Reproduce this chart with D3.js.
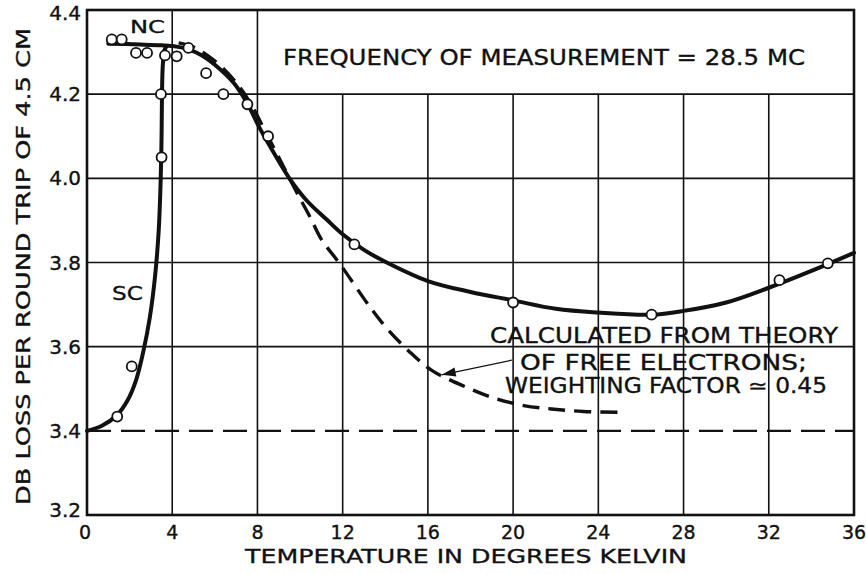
<!DOCTYPE html>
<html>
<head>
<meta charset="utf-8">
<script src="https://cdn.jsdelivr.net/npm/d3@7/dist/d3.min.js"></script>
<style>
  html, body { margin: 0; padding: 0; background: #fff; }
  svg { display: block; }
  text { font-family: "DejaVu Sans", sans-serif; fill: #111; stroke: #111; stroke-width: 0.35; }
</style>
</head>
<body>
<svg id="chart" width="866" height="574"></svg>
<script>
// Axis ticks
const xTicks = [0, 4, 8, 12, 16, 20, 24, 28, 32, 36];
const yTicks = [3.2, 3.4, 3.6, 3.8, 4.0, 4.2, 4.4];
const yTickLabels = ["3.2", "3.4", "3.6", "3.8", "4.0", "4.2", "4.4"];

// Normal-conducting branch: measured points and drawn curve (temperature K, dB)
const ncPointsT = [1.16, 1.63, 2.3, 2.82, 3.66, 4.21, 4.76, 5.59, 6.4, 7.53, 8.5, 12.55, 20.0, 26.5, 32.5, 34.77];
const ncPointsDb = [4.33, 4.33, 4.298, 4.298, 4.292, 4.29, 4.31, 4.25, 4.2, 4.176, 4.1, 3.843, 3.705, 3.676, 3.758, 3.798];
const ncCurveT = [1.0, 2.5, 3.5, 4.2, 4.8, 5.4, 6.0, 6.9, 7.5, 8.1, 8.8, 9.5, 10.3, 11.25, 12.0, 13.0, 14.07, 16.0, 18.0, 20.0, 22.0, 24.0, 26.5, 28.0, 30.0, 32.0, 34.0, 36.0];
const ncCurveDb = [4.32, 4.318, 4.316, 4.313, 4.306, 4.292, 4.27, 4.226, 4.18, 4.12, 4.058, 4.0, 3.948, 3.902, 3.867, 3.83, 3.8, 3.756, 3.73, 3.71, 3.69, 3.681, 3.676, 3.685, 3.705, 3.74, 3.78, 3.823];

// Superconducting branch
const scPointsT = [1.42, 2.1, 3.5, 3.47];
const scPointsDb = [3.434, 3.553, 4.05, 4.2];
const scCurveT = [0, 0.7, 1.4, 1.9, 2.3, 2.65, 2.95, 3.2, 3.37, 3.46, 3.5, 3.52, 3.56, 3.64, 3.75];
const scCurveDb = [3.4, 3.412, 3.437, 3.472, 3.52, 3.59, 3.67, 3.77, 3.88, 4.0, 4.1, 4.2, 4.27, 4.305, 4.315];

// Free-electron theory, weighting factor 0.45
const theoryT = [4.3, 5.0, 5.6, 6.34, 7.18, 7.77, 8.4, 9.0, 9.5, 10.0, 10.5, 11.0, 11.85, 13.3, 14.1, 15.2, 16.2, 17.7, 19.1, 20.5, 21.8, 23.3, 25.0];
const theoryDb = [4.322, 4.312, 4.294, 4.264, 4.216, 4.17, 4.108, 4.05, 4.0, 3.952, 3.905, 3.855, 3.798, 3.693, 3.642, 3.585, 3.543, 3.506, 3.478, 3.46, 3.452, 3.446, 3.444];

// Normal-state residual loss level
const baselineDb = 3.4;

const margin = { left: 87, right: 12, top: 10, bottom: 59 };
const W = 866, H = 574;
const svg = d3.select("#chart");

const x = d3.scaleLinear().domain([0, 36]).range([margin.left, W - margin.right]);
const y = d3.scaleLinear().domain([3.2, 4.4]).range([H - margin.bottom, margin.top]);

const ink = "#111";

// Grid: vertical lines stop under the caption box (T > 8, loss > 4.2)
const g = svg.append("g");
g.selectAll("line.v").data(xTicks.slice(1, -1)).join("line")
  .attr("x1", d => x(d)).attr("x2", d => x(d))
  .attr("y1", y(3.2)).attr("y2", d => d > 8 ? y(4.2) : y(4.4))
  .attr("stroke", ink).attr("stroke-width", 1.6);
g.selectAll("line.h").data([3.6, 3.8, 4.0, 4.2]).join("line")
  .attr("x1", x(0)).attr("x2", x(36))
  .attr("y1", d => y(d)).attr("y2", d => y(d))
  .attr("stroke", ink).attr("stroke-width", 1.6);

// Frame
svg.append("rect")
  .attr("x", x(0)).attr("y", y(4.4))
  .attr("width", x(36) - x(0)).attr("height", y(3.2) - y(4.4))
  .attr("fill", "none").attr("stroke", ink).attr("stroke-width", 2.6);

// Baseline dashed at 3.4
svg.append("line")
  .attr("x1", x(0)).attr("x2", x(36))
  .attr("y1", y(baselineDb)).attr("y2", y(baselineDb))
  .attr("stroke", ink).attr("stroke-width", 2.4)
  .attr("stroke-dasharray", "24,10");

const line = d3.line().x(d => x(d[0])).y(d => y(d[1])).curve(d3.curveCatmullRom.alpha(0.5));
const zip = (a, b) => a.map((v, i) => [v, b[i]]);

// Theory curve (dashed)
svg.append("path")
  .attr("d", line(zip(theoryT, theoryDb)))
  .attr("fill", "none").attr("stroke", ink).attr("stroke-width", 3.4)
  .attr("stroke-dasharray", "17,9");

// NC and SC curves
svg.append("path")
  .attr("d", line(zip(ncCurveT, ncCurveDb)))
  .attr("fill", "none").attr("stroke", ink).attr("stroke-width", 4)
  .attr("stroke-linecap", "round");
svg.append("path")
  .attr("d", line(zip(scCurveT, scCurveDb)))
  .attr("fill", "none").attr("stroke", ink).attr("stroke-width", 4)
  .attr("stroke-linecap", "round");

// Measured points
const pts = zip(ncPointsT, ncPointsDb).concat(zip(scPointsT, scPointsDb));
svg.selectAll("circle.pt").data(pts).join("circle")
  .attr("cx", d => x(d[0])).attr("cy", d => y(d[1])).attr("r", 5)
  .attr("fill", "#fff").attr("stroke", ink).attr("stroke-width", 1.8);

// Tick labels
svg.selectAll("text.yt").data(yTicks).join("text")
  .attr("x", 81).attr("y", (d, i) => y(d) + (i === 0 ? 2 : (i === yTicks.length - 1 ? 10 : 7)))
  .attr("text-anchor", "end").attr("font-size", 20)
  .text((d, i) => yTickLabels[i]);
svg.selectAll("text.xt").data(xTicks).join("text")
  .attr("x", d => x(d) - (d === 0 ? 2 : 0)).attr("y", 539)
  .attr("text-anchor", "middle").attr("font-size", 19)
  .text(d => d);

// Axis titles
svg.append("text")
  .attr("x", 245).attr("y", 563).attr("font-size", 20)
  .attr("textLength", 442).attr("lengthAdjust", "spacingAndGlyphs")
  .text("TEMPERATURE IN DEGREES KELVIN");
svg.append("text")
  .attr("transform", "translate(30,505) rotate(-90)")
  .attr("font-size", 20)
  .attr("textLength", 477).attr("lengthAdjust", "spacingAndGlyphs")
  .text("DB LOSS PER ROUND TRIP OF 4.5 CM");

// Captions
svg.append("text")
  .attr("x", 283).attr("y", 65).attr("font-size", 22)
  .attr("textLength", 522).attr("lengthAdjust", "spacingAndGlyphs")
  .text("FREQUENCY OF MEASUREMENT = 28.5 MC");
svg.append("text")
  .attr("x", 130).attr("y", 33).attr("font-size", 18)
  .attr("textLength", 35).attr("lengthAdjust", "spacingAndGlyphs")
  .text("NC");
svg.append("text")
  .attr("x", 112).attr("y", 300).attr("font-size", 20)
  .attr("textLength", 31).attr("lengthAdjust", "spacingAndGlyphs")
  .text("SC");

const ann = [
  { t: "CALCULATED FROM THEORY", x0: 490, w: 348, yb: 343 },
  { t: "OF FREE ELECTRONS;", x0: 520, w: 287, yb: 370 },
  { t: "WEIGHTING FACTOR ≃ 0.45", x0: 505, w: 322, yb: 393 }
];
svg.selectAll("text.ann").data(ann).join("text")
  .attr("x", d => d.x0).attr("y", d => d.yb).attr("font-size", 21)
  .attr("textLength", d => d.w).attr("lengthAdjust", "spacingAndGlyphs")
  .text(d => d.t);

// Arrow from the caption to the theory curve
const tail = [19.94, 3.568], tip = [16.65, 3.533];
const tx = x(tip[0]), ty = y(tip[1]), sx = x(tail[0]), sy = y(tail[1]);
svg.append("line")
  .attr("x1", sx).attr("y1", sy).attr("x2", tx).attr("y2", ty)
  .attr("stroke", ink).attr("stroke-width", 1.2);
const ang = Math.atan2(ty - sy, tx - sx);
const L = 14, Wd = 4.5;
const bx = tx - L * Math.cos(ang), by = ty - L * Math.sin(ang);
svg.append("path")
  .attr("d", `M${tx},${ty} L${bx - Wd * Math.sin(ang)},${by + Wd * Math.cos(ang)} L${bx + Wd * Math.sin(ang)},${by - Wd * Math.cos(ang)} Z`)
  .attr("fill", ink);
</script>
</body>
</html>
